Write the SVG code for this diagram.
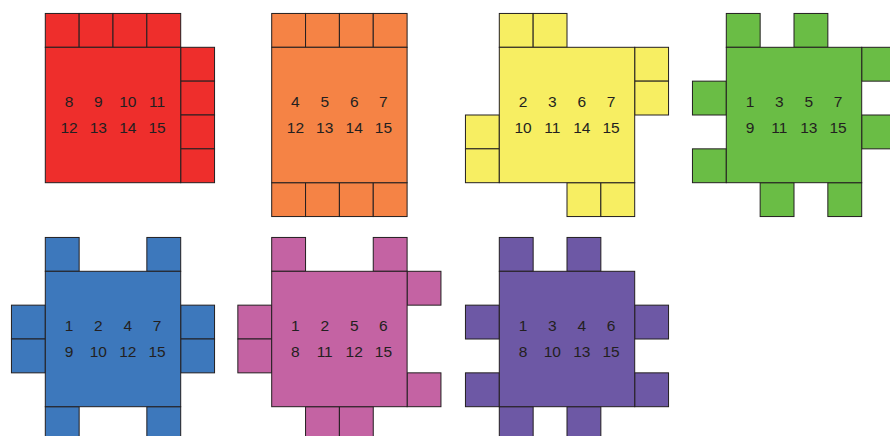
<svg xmlns="http://www.w3.org/2000/svg" width="890" height="436" viewBox="0 0 890 436">
<style>
rect{stroke:#231f20;stroke-width:1}
text{font-family:"Liberation Sans",Arial,sans-serif;font-size:15.5px;fill:#231f20;text-anchor:middle}
#red rect{fill:#ee2e2c}
#orange rect{fill:#f58345}
#yellow rect{fill:#f7ee62}
#green rect{fill:#6abd45}
#blue rect{fill:#3d78bc}
#pink rect{fill:#c463a3}
#purple rect{fill:#6d58a5}
</style>
<rect x="0" y="0" width="890" height="436" fill="#fff" style="stroke:none"/>
<g id="red">
<rect x="45.3" y="13.45" width="33.85" height="33.85"/>
<rect x="79.15" y="13.45" width="33.85" height="33.85"/>
<rect x="113" y="13.45" width="33.85" height="33.85"/>
<rect x="146.85" y="13.45" width="33.85" height="33.85"/>
<rect x="180.7" y="47.3" width="33.85" height="33.85"/>
<rect x="180.7" y="81.15" width="33.85" height="33.85"/>
<rect x="180.7" y="115" width="33.85" height="33.85"/>
<rect x="180.7" y="148.85" width="33.85" height="33.85"/>
<rect x="45.3" y="47.3" width="135.4" height="135.4"/>
<text x="69" y="107">8</text><text x="98.3" y="107">9</text><text x="127.8" y="107">10</text><text x="157" y="107">11</text>
<text x="69" y="133.1">12</text><text x="98.3" y="133.1">13</text><text x="127.8" y="133.1">14</text><text x="157" y="133.1">15</text>
</g>
<g id="orange">
<rect x="271.7" y="13.45" width="33.85" height="33.85"/>
<rect x="305.55" y="13.45" width="33.85" height="33.85"/>
<rect x="339.4" y="13.45" width="33.85" height="33.85"/>
<rect x="373.25" y="13.45" width="33.85" height="33.85"/>
<rect x="271.7" y="182.7" width="33.85" height="33.85"/>
<rect x="305.55" y="182.7" width="33.85" height="33.85"/>
<rect x="339.4" y="182.7" width="33.85" height="33.85"/>
<rect x="373.25" y="182.7" width="33.85" height="33.85"/>
<rect x="271.7" y="47.3" width="135.4" height="135.4"/>
<text x="295.4" y="107">4</text><text x="324.7" y="107">5</text><text x="354.2" y="107">6</text><text x="383.4" y="107">7</text>
<text x="295.4" y="133.1">12</text><text x="324.7" y="133.1">13</text><text x="354.2" y="133.1">14</text><text x="383.4" y="133.1">15</text>
</g>
<g id="yellow">
<rect x="499.3" y="13.45" width="33.85" height="33.85"/>
<rect x="533.15" y="13.45" width="33.85" height="33.85"/>
<rect x="634.7" y="47.3" width="33.85" height="33.85"/>
<rect x="634.7" y="81.15" width="33.85" height="33.85"/>
<rect x="465.45" y="115" width="33.85" height="33.85"/>
<rect x="465.45" y="148.85" width="33.85" height="33.85"/>
<rect x="567" y="182.7" width="33.85" height="33.85"/>
<rect x="600.85" y="182.7" width="33.85" height="33.85"/>
<rect x="499.3" y="47.3" width="135.4" height="135.4"/>
<text x="523" y="107">2</text><text x="552.3" y="107">3</text><text x="581.8" y="107">6</text><text x="611" y="107">7</text>
<text x="523" y="133.1">10</text><text x="552.3" y="133.1">11</text><text x="581.8" y="133.1">14</text><text x="611" y="133.1">15</text>
</g>
<g id="green">
<rect x="726.3" y="13.45" width="33.85" height="33.85"/>
<rect x="794" y="13.45" width="33.85" height="33.85"/>
<rect x="861.7" y="47.3" width="33.85" height="33.85"/>
<rect x="861.7" y="115" width="33.85" height="33.85"/>
<rect x="692.45" y="81.15" width="33.85" height="33.85"/>
<rect x="692.45" y="148.85" width="33.85" height="33.85"/>
<rect x="760.15" y="182.7" width="33.85" height="33.85"/>
<rect x="827.85" y="182.7" width="33.85" height="33.85"/>
<rect x="726.3" y="47.3" width="135.4" height="135.4"/>
<text x="750" y="107">1</text><text x="779.3" y="107">3</text><text x="808.8" y="107">5</text><text x="838" y="107">7</text>
<text x="750" y="133.1">9</text><text x="779.3" y="133.1">11</text><text x="808.8" y="133.1">13</text><text x="838" y="133.1">15</text>
</g>
<g id="blue">
<rect x="45.3" y="237.45" width="33.85" height="33.85"/>
<rect x="146.85" y="237.45" width="33.85" height="33.85"/>
<rect x="11.45" y="305.15" width="33.85" height="33.85"/>
<rect x="11.45" y="339" width="33.85" height="33.85"/>
<rect x="180.7" y="305.15" width="33.85" height="33.85"/>
<rect x="180.7" y="339" width="33.85" height="33.85"/>
<rect x="45.3" y="406.7" width="33.85" height="33.85"/>
<rect x="146.85" y="406.7" width="33.85" height="33.85"/>
<rect x="45.3" y="271.3" width="135.4" height="135.4"/>
<text x="69" y="331">1</text><text x="98.3" y="331">2</text><text x="127.8" y="331">4</text><text x="157" y="331">7</text>
<text x="69" y="357.1">9</text><text x="98.3" y="357.1">10</text><text x="127.8" y="357.1">12</text><text x="157" y="357.1">15</text>
</g>
<g id="pink">
<rect x="271.7" y="237.45" width="33.85" height="33.85"/>
<rect x="373.25" y="237.45" width="33.85" height="33.85"/>
<rect x="407.1" y="271.3" width="33.85" height="33.85"/>
<rect x="407.1" y="372.85" width="33.85" height="33.85"/>
<rect x="237.85" y="305.15" width="33.85" height="33.85"/>
<rect x="237.85" y="339" width="33.85" height="33.85"/>
<rect x="305.55" y="406.7" width="33.85" height="33.85"/>
<rect x="339.4" y="406.7" width="33.85" height="33.85"/>
<rect x="271.7" y="271.3" width="135.4" height="135.4"/>
<text x="295.4" y="331">1</text><text x="324.7" y="331">2</text><text x="354.2" y="331">5</text><text x="383.4" y="331">6</text>
<text x="295.4" y="357.1">8</text><text x="324.7" y="357.1">11</text><text x="354.2" y="357.1">12</text><text x="383.4" y="357.1">15</text>
</g>
<g id="purple">
<rect x="499.3" y="237.45" width="33.85" height="33.85"/>
<rect x="567" y="237.45" width="33.85" height="33.85"/>
<rect x="465.45" y="305.15" width="33.85" height="33.85"/>
<rect x="465.45" y="372.85" width="33.85" height="33.85"/>
<rect x="634.7" y="305.15" width="33.85" height="33.85"/>
<rect x="634.7" y="372.85" width="33.85" height="33.85"/>
<rect x="499.3" y="406.7" width="33.85" height="33.85"/>
<rect x="567" y="406.7" width="33.85" height="33.85"/>
<rect x="499.3" y="271.3" width="135.4" height="135.4"/>
<text x="523" y="331">1</text><text x="552.3" y="331">3</text><text x="581.8" y="331">4</text><text x="611" y="331">6</text>
<text x="523" y="357.1">8</text><text x="552.3" y="357.1">10</text><text x="581.8" y="357.1">13</text><text x="611" y="357.1">15</text>
</g>
</svg>
